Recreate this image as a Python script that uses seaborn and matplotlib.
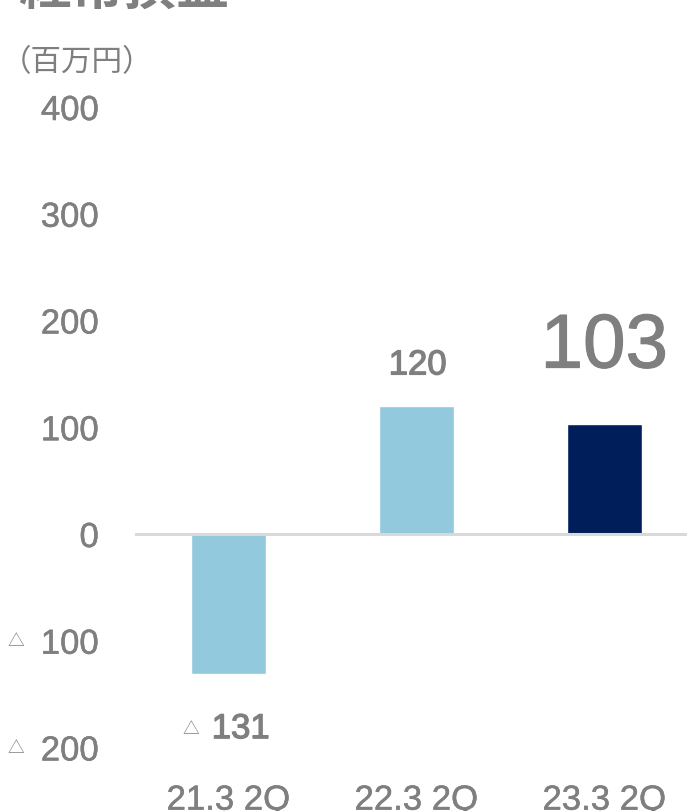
import matplotlib
matplotlib.use("Agg")
import matplotlib.pyplot as plt
import matplotlib.transforms as mtransforms
import matplotlib.patheffects as pe
import pandas as pd
import seaborn as sns

# dati
periodi = ["21.3 2Q", "22.3 2Q", "23.3 2Q"]
valori = [-131, 120, 103]
colori = ["#92C9DC", "#92C9DC", "#001E5A"]
evidenza = [False, False, True]  # ultimo valore in grande
tick_valori = [-200, -100, 0, 100, 200, 300, 400]
titolo = "経常損益"
unita = "（百万円）"

GRIGIO = "#7F7F7F"
leggero = [pe.withStroke(linewidth=0.35, foreground=GRIGIO)]
spesso = [pe.withStroke(linewidth=0.9, foreground=GRIGIO)]  # etichette valori piu' marcate

sns.set_style("white")
plt.rcParams['font.family'] = ['Liberation Sans', 'Noto Sans CJK JP', 'DejaVu Sans']

W, H = 687, 812
fig = plt.figure(figsize=(W / 100, H / 100), dpi=100)
ax = fig.add_axes([135 / W, 1 - 764.5 / H, 1 - 135 / W, (764.5 - 92) / H])

df = pd.DataFrame({"periodo": periodi, "valore": valori})
sns.barplot(data=df, x="periodo", y="valore", hue="periodo", palette=colori,
            width=0.4, saturation=1, legend=False, ax=ax)

ax.set_xlim(-0.497, 2.44)
ax.set_ylim(-215, 415)
ax.axhline(0, color="#D9D9D9", lw=2.2, zorder=3)

for s in ax.spines.values():
    s.set_visible(False)
ax.set_xlabel("")
ax.set_ylabel("")

# asse y: numeri assoluti, triangolo piccolo per i negativi
ax.set_yticks(tick_valori)
ax.set_yticklabels([str(abs(v)) for v in tick_valori])
ax.tick_params(axis='y', length=0, pad=26, labelsize=25, labelcolor=GRIGIO)
ax.tick_params(axis='x', length=0, pad=14.5, labelsize=25, labelcolor=GRIGIO)
for t in ax.get_xticklabels() + ax.get_yticklabels():
    t.set_path_effects(leggero)

trans = mtransforms.blended_transform_factory(ax.transAxes, ax.transData)
for v in tick_valori:
    if v < 0:
        ax.text(-111 / 552, v, "△", transform=trans, ha='right', va='center',
                fontsize=12, color=GRIGIO)

# etichette dei valori
for i, v in enumerate(valori):
    if evidenza[i]:
        ax.annotate(str(v), xy=(i, v), xytext=(0, 54.7), textcoords='offset points',
                    ha='center', va='center', fontsize=55, color=GRIGIO,
                    path_effects=[pe.withStroke(linewidth=0.8, foreground=GRIGIO)])
    elif v >= 0:
        ax.annotate(str(v), xy=(i, v), xytext=(1, 29.5), textcoords='offset points',
                    ha='center', va='center', fontsize=25, color=GRIGIO, path_effects=spesso)
    else:
        ax.annotate(str(abs(v)), xy=(i, v), xytext=(-12, -39.5), textcoords='offset points',
                    ha='left', va='center', fontsize=25, color=GRIGIO, path_effects=spesso)
        ax.annotate("△", xy=(i, v), xytext=(-21, -39.5), textcoords='offset points',
                    ha='right', va='center', fontsize=12, color=GRIGIO)

fig.text(18 / W, 1 - 5 / H, titolo, fontsize=38, fontweight='bold', color=GRIGIO,
         ha='left', va='baseline')
fig.text(1 / W, 1 - 63 / H, unita, fontsize=22, color=GRIGIO, ha='left', va='center')

fig.savefig("out.png", dpi=100, facecolor="white")
